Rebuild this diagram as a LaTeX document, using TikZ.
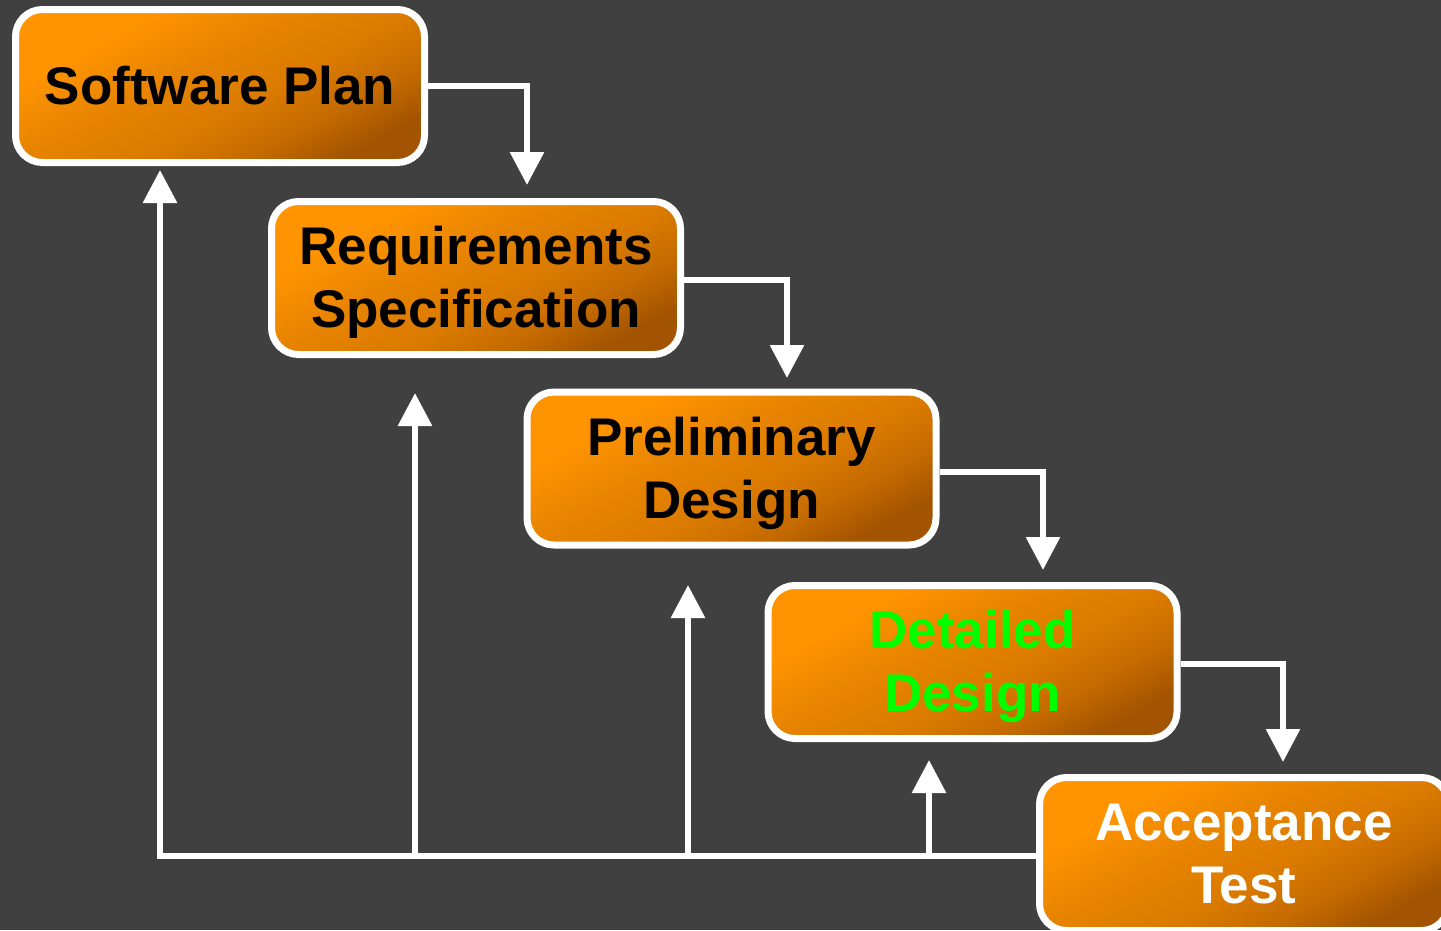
\documentclass[tikz,border=0pt]{standalone}
\usepackage{fontspec}
\setmainfont{Liberation Sans}
\usetikzlibrary{arrows.meta,calc}
\definecolor{bg}{HTML}{404040}
\definecolor{obA}{HTML}{FF9400}
\definecolor{obB}{HTML}{E88400}
\definecolor{obC}{HTML}{DA7A00}
\definecolor{obD}{HTML}{C46A00}
\definecolor{obE}{HTML}{A35400}
\definecolor{brightgreen}{HTML}{00FF00}
\pgfdeclarehorizontalshading{boxshade}{100bp}{color(0bp)=(obA); color(30bp)=(obA); color(43bp)=(obB); color(56bp)=(obC); color(66bp)=(obD); color(75bp)=(obE); color(100bp)=(obE)}
\newsavebox{\phasetextbox}
\newcommand{\boxtext}[1]{\sbox{\phasetextbox}{\begin{tabular}{@{}c@{}}#1\end{tabular}}\raisebox{-5.5pt}[\ht\phasetextbox][\dp\phasetextbox]{\usebox{\phasetextbox}}}
\tikzset{
  phase/.style={draw=white, line width=7pt, rounded corners=27pt,
    shading=boxshade, shading angle=-62,
    minimum width=409pt, minimum height=153pt, inner sep=0pt,
    align=center, font=\bfseries\fontsize{53}{63}\selectfont},
  flow/.style={draw=white, line width=6pt,
    -{Triangle[length=33pt,width=33pt]}},
  plainline/.style={draw=white, line width=6pt}
}
\begin{document}
\begin{tikzpicture}[x=1pt,y=-1pt]
\useasboundingbox (0,0) rectangle (1441,930);
\clip (0,0) rectangle (1441,930);
\fill[bg] (0,0) rectangle (1441,930);

\node[phase, text=black] (plan) at (220,86) {\boxtext{Software Plan}};
\node[phase, text=black] (req) at (476,278) {\boxtext{Requirements\\Specification}};
\node[phase, text=black] (pre) at (731.5,468.5) {\boxtext{Preliminary\\Design}};
\node[phase, text=brightgreen] (det) at (972.5,662) {\boxtext{Detailed\\Design}};
\node[phase, text=white] (acc) at (1244,854) {\boxtext{Acceptance\\Test}};

% forward flow
\coordinate (c1) at (527,86);   \coordinate (t1) at (527,185);
\coordinate (c2) at (787,280);  \coordinate (t2) at (787,378);
\coordinate (c3) at (1043,472); \coordinate (t3) at (1043,570);
\coordinate (c4) at (1283,664); \coordinate (t4) at (1283,762);
\draw[flow] (plan.east) -- (c1) -- (t1);
\draw[flow] (req.east |- c2) -- (c2) -- (t2);
\draw[flow] (pre.east |- c3) -- (c3) -- (t3);
\draw[flow] (det.east |- c4) -- (c4) -- (t4);

% feedback
\coordinate (b0) at (160,856);
\coordinate (b1) at (415,856);
\coordinate (b2) at (688,856);
\coordinate (b3) at (929,856);
\coordinate (u0) at (160,170);
\coordinate (u1) at (415,393);
\coordinate (u2) at (688,585);
\coordinate (u3) at (929,760);
\draw[plainline, line join=miter] (acc.west |- b0) -- (b0) -- ($(b0)!0.5!(u0)$);
\draw[flow] ($(b0)!0.4!(u0)$) -- (u0);
\draw[flow] (b1) -- (u1);
\draw[flow] (b2) -- (u2);
\draw[flow] (b3) -- (u3);
\end{tikzpicture}
\end{document}
